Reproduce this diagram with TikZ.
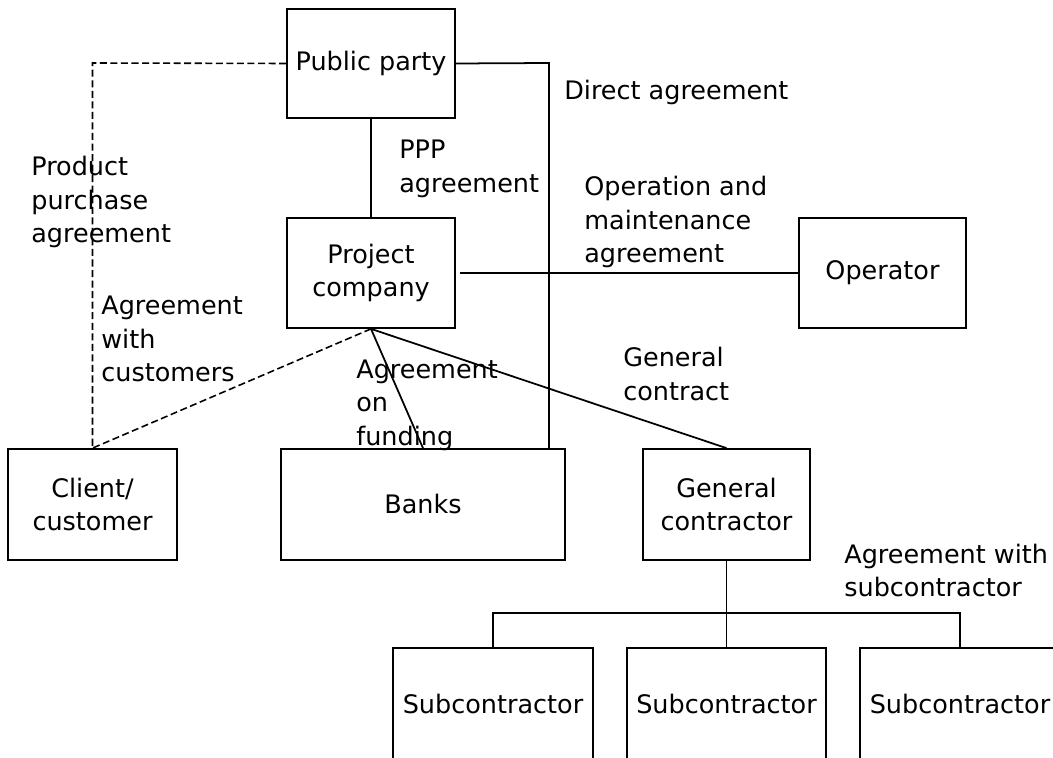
\documentclass[tikz,border=0pt]{standalone}
\usepackage{fontspec}
\setmainfont{DejaVu Sans}
\usetikzlibrary{calc}

\tikzset{
  party/.style={draw,line width=1pt,align=center,inner sep=2pt,
    minimum width=3.36cm,minimum height=2.2cm},
  deal/.style={anchor=west,align=left,inner sep=0pt},
  link/.style={line width=1pt},
  weak/.style={line width=0.9pt,dashed,dash pattern=on 4pt off 2pt}
}

\begin{document}
\begin{tikzpicture}[font=\fontsize{14.5}{19.1}\selectfont]
\clip (0,0) rectangle (21.06,-15.16);

% parties
\node[party,minimum height=2.18cm] (pub) at (7.42,-1.27) {Public party};
\node[party] (proj) at (7.42,-5.46) {Project\\company};
\node[party,minimum width=3.34cm] (oper) at (17.65,-5.46) {Operator};
\node[party,minimum width=3.38cm,minimum height=2.22cm] (client) at (1.85,-10.09) {Client/\\customer};
\node[party,minimum width=5.68cm,minimum height=2.22cm] (banks) at (8.46,-10.09) {Banks};
\node[party,minimum width=3.34cm,minimum height=2.22cm] (gc) at (14.53,-10.09) {General\\contractor};
\node[party,minimum width=4cm,minimum height=2.22cm] (sub1) at (9.86,-14.07) {Subcontractor};
\node[party,minimum width=3.98cm,minimum height=2.22cm] (sub2) at (14.53,-14.07) {Subcontractor};
\node[party,minimum width=4cm,minimum height=2.22cm] (sub3) at (19.2,-14.07) {Subcontractor};

% agreements
\node[deal] (ppa) at (0.62,-4.04) {Product\\purchase\\agreement};
\node[deal] (ppp) at (7.98,-3.38) {PPP\\agreement};
\node[deal] (direct) at (11.28,-1.84) {Direct agreement};
\node[deal] (om) at (11.68,-4.44) {Operation and\\maintenance\\agreement};
\node[deal] (cust) at (2.02,-6.78) {Agreement\\with\\customers};
\node[deal] (fund) at (7.12,-8.1) {Agreement\\on\\funding};
\node[deal] (gen) at (12.46,-7.48) {General\\contract};
\node[deal] (subs) at (16.88,-11.41) {Agreement with\\subcontractor};

\coordinate (pcorner) at (1.85,-1.26);
\coordinate (dcorner) at (10.98,-1.26);

\draw[weak] (pub.west) -- (pcorner) -- (client.north);
\draw[weak] (proj.south) -- (client.north);
\draw[link] (pub.east) -- (dcorner) -- (dcorner |- banks.north);
\draw[link] (pub.south) -- (proj.north);
\draw[link,shorten <=0.08cm] (proj.east) -- (oper.west);
\draw[link] (proj.south) -- (banks.north);
\draw[link] (proj.south) -- (gc.north);
\draw[link] (gc.south) -- (sub2.north);
\draw[link] (sub1.north) -- ++(0,0.68) -| (sub3.north);

\end{tikzpicture}
\end{document}
